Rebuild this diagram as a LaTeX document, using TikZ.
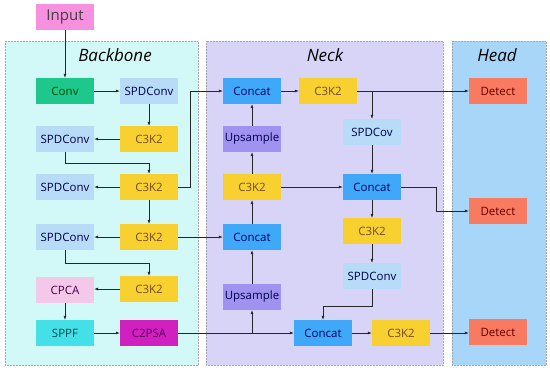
\documentclass[tikz,border=0pt]{standalone}
\usepackage{fontspec}
\setmainfont{Open Sans}
\usepackage{xcolor}
\usepackage{tikz}
\usetikzlibrary{arrows.meta,positioning,calc}

\definecolor{bbfill}{HTML}{D2F8F8}
\definecolor{nkfill}{HTML}{D8D4F8}
\definecolor{hdfill}{HTML}{A8D6F8}
\definecolor{convc}{HTML}{1EC88C}
\definecolor{spdc}{HTML}{B8DCF8}
\definecolor{c3kc}{HTML}{F8D030}
\definecolor{cpcac}{HTML}{F4C8E8}
\definecolor{sppfc}{HTML}{44E0E8}
\definecolor{psac}{HTML}{D020C0}
\definecolor{catc}{HTML}{40A8F8}
\definecolor{upc}{HTML}{A092F0}
\definecolor{detc}{HTML}{F87A60}
\definecolor{inc}{HTML}{F890E0}

\begin{document}
\begin{tikzpicture}[x=1pt,y=-1pt,>={Latex[length=4pt,width=3pt]},
  every node/.style={font=\fontsize{11.5}{13}\selectfont},
  blk/.style={rectangle,minimum width=58pt,minimum height=26pt,inner sep=0pt},
  panel/.style={draw=gray!70,densely dotted,line width=0.5pt},
  title/.style={font=\fontsize{17}{20}\selectfont\itshape},
  link/.style={->,line width=0.6pt,black!85}]

\useasboundingbox (0,0) rectangle (550,373);

% Panels
\draw[panel,fill=bbfill] (5,41) rectangle (198,365);
\draw[panel,fill=nkfill] (206,41) rectangle (443,365);
\draw[panel,fill=hdfill] (452,41) rectangle (546,365);
\node[title] (tbb) at (115,55) {Backbone};
\node[title] (tnk) at (325,55) {Neck};
\node[title] (thd) at (497,55) {Head};

\node[blk,fill=inc,text=black!75,font=\fontsize{15}{17}\selectfont] (input) at (65,16.5) {Input};

% Backbone
\node[blk,fill=convc,text=green!30!black] (conv) at (65,91) {Conv};
\node[blk,fill=spdc,text=blue!30!black] (spda) at (149,91) {SPDConv};
\node[blk,fill=c3kc,text=brown!60!black] (bca) at (149,139) {C3K2};
\node[blk,fill=spdc,text=blue!30!black] (spdb) at (65,139) {SPDConv};
\node[blk,fill=c3kc,text=brown!60!black] (bcb) at (149,187) {C3K2};
\node[blk,fill=spdc,text=blue!30!black] (spdc) at (65,187) {SPDConv};
\node[blk,fill=c3kc,text=brown!60!black] (bcc) at (149,237) {C3K2};
\node[blk,fill=spdc,text=blue!30!black] (spdd) at (65,237) {SPDConv};
\node[blk,fill=c3kc,text=brown!60!black] (bcd) at (149,289) {C3K2};
\node[blk,fill=cpcac,text=violet!60!black] (cpca) at (65,290) {CPCA};
\node[blk,fill=sppfc,text=teal!60!black] (sppf) at (65,333) {SPPF};
\node[blk,fill=psac,text=violet!70!black] (c2psa) at (149,333) {C2PSA};

% Neck
\node[blk,fill=catc,text=blue!40!black] (cata) at (252,91) {Concat};
\node[blk,fill=c3kc,text=brown!60!black] (nca) at (328,91) {C3K2};
\node[blk,fill=upc,text=blue!30!black] (upa) at (252,139) {Upsample};
\node[blk,fill=spdc,text=blue!30!black] (spdcov) at (372,132) {SPDCov};
\node[blk,fill=c3kc,text=brown!60!black] (ncb) at (252,187) {C3K2};
\node[blk,fill=catc,text=blue!40!black] (catb) at (372,187) {Concat};
\node[blk,fill=catc,text=blue!40!black] (catc) at (252,237) {Concat};
\node[blk,fill=c3kc,text=brown!60!black] (ncc) at (372,231) {C3K2};
\node[blk,fill=spdc,text=blue!30!black] (nspd) at (372,276) {SPDConv};
\node[blk,fill=upc,text=blue!30!black] (upb) at (252,297) {Upsample};
\node[blk,fill=catc,text=blue!40!black] (catd) at (323,333) {Concat};
\node[blk,fill=c3kc,text=brown!60!black] (ncd) at (401,333) {C3K2};

% Head
\node[blk,fill=detc,text=red!40!black] (deta) at (498,91) {Detect};
\node[blk,fill=detc,text=red!40!black] (detb) at (498,211) {Detect};
\node[blk,fill=detc,text=red!40!black] (detc) at (498,332) {Detect};

% Connections
\draw[link] (input) -- (conv);
\draw[link] (conv) -- (spda);
\draw[link] (spda) -- (bca);
\draw[link] (bca) -- (spdb);
\draw[link] (spdb.south) -- ++(0,11) -| (bcb.north);
\draw[link] (bcb) -- (spdc);
\draw[link] (bcb.east) -- ++(12,0) |- (cata.west);
\draw[link] (bcb) -- (bcc);
\draw[link] (bcc) -- (spdd);
\draw[link] (bcc) -- (catc);
\draw[link] (spdd.south) -- ++(0,13) -| (bcd.north);
\draw[link] (bcd) -- (cpca.east |- bcd);
\draw[link] (cpca) -- (sppf);
\draw[link] (sppf) -- (c2psa);
\draw[link] (c2psa) -- (catd);
\draw[link] (upb.south |- catd.west) -- (upb);

\draw[link] (upb) -- (catc);
\draw[link] (catc) -- (ncb);
\draw[link] (ncb) -- (upa);
\draw[link] (upa) -- (cata);
\draw[link] (cata) -- (nca);
\draw[link] (nca) -- (deta);
\draw[link] (spdcov.north |- nca.east) -- (spdcov);
\draw[link] (spdcov) -- (catb);
\draw[link] (ncb) -- (catb);
\draw[link] (catb.east) -- ++(35,0) |- (detb.west);
\draw[link] (catb) -- (ncc);
\draw[link] (ncc) -- (nspd);
\draw[link] (nspd.south) -- ++(0,17) -| (catd.north);
\draw[link] (catd) -- (ncd);
\draw[link] (ncd) -- (detc.west |- ncd);

\end{tikzpicture}
\end{document}
